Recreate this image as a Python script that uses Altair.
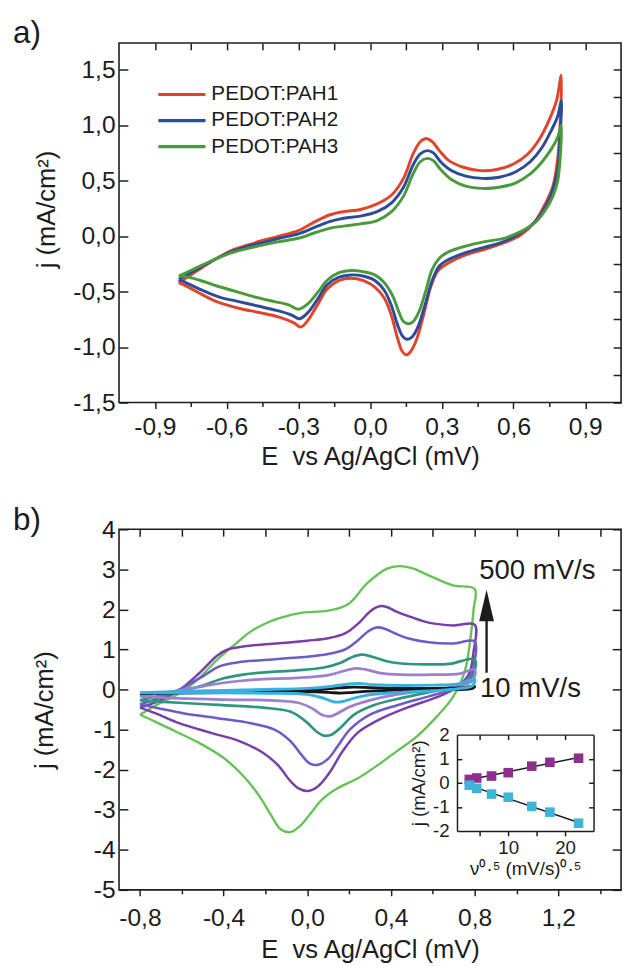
import altair as alt
import pandas as pd

FONT = "Liberation Sans"
INK = "#1c1c1c"
MINUS = "\u2212"

# ---------------- panel a : three films ----------------
a_names = ["PEDOT:PAH1", "PEDOT:PAH2", "PEDOT:PAH3"]
a_colors = ["#e0442b", "#2c4c9a", "#4a9a3c"]

pah1_E = [-0.80, -0.75, -0.70, -0.64, -0.58, -0.51, -0.45, -0.38, -0.30, -0.23, -0.17, -0.11, -0.04, 0.03, 0.09,
          0.14, 0.18, 0.21, 0.235, 0.26, 0.29, 0.33, 0.39, 0.46, 0.53, 0.60, 0.66, 0.71, 0.75, 0.78, 0.80,
          0.795, 0.785, 0.765, 0.735, 0.69, 0.63, 0.56, 0.48, 0.40, 0.33, 0.285, 0.255, 0.225, 0.195, 0.17,
          0.152, 0.135, 0.115, 0.09, 0.06, 0.02, -0.03, -0.08, -0.13, -0.18, -0.22, -0.26, -0.29, -0.32,
          -0.38, -0.46, -0.55, -0.63, -0.70, -0.76, -0.80]
pah1_j = [-0.42, -0.35, -0.28, -0.20, -0.13, -0.08, -0.04, 0.00, 0.05, 0.13, 0.19, 0.22, 0.24, 0.29, 0.37,
          0.52, 0.74, 0.85, 0.88, 0.85, 0.77, 0.68, 0.62, 0.59, 0.60, 0.65, 0.74, 0.88, 1.05, 1.22, 1.45,
          1.00, 0.70, 0.45, 0.30, 0.13, 0.01, -0.06, -0.12, -0.17, -0.24, -0.31, -0.45, -0.70, -0.93, -1.04,
          -1.07, -1.04, -0.92, -0.72, -0.56, -0.46, -0.40, -0.38, -0.40, -0.48, -0.62, -0.76, -0.82, -0.78,
          -0.73, -0.69, -0.65, -0.60, -0.53, -0.46, -0.42]

pah2_E = [-0.80, -0.75, -0.70, -0.64, -0.58, -0.51, -0.45, -0.38, -0.30, -0.23, -0.17, -0.11, -0.04, 0.03, 0.09,
          0.14, 0.18, 0.21, 0.24, 0.265, 0.295, 0.34, 0.40, 0.47, 0.54, 0.61, 0.67, 0.72, 0.76, 0.785, 0.80,
          0.795, 0.785, 0.765, 0.735, 0.69, 0.63, 0.56, 0.48, 0.40, 0.33, 0.29, 0.26, 0.23, 0.20, 0.175,
          0.152, 0.135, 0.115, 0.09, 0.06, 0.02, -0.03, -0.08, -0.13, -0.18, -0.22, -0.26, -0.295, -0.33,
          -0.39, -0.47, -0.55, -0.63, -0.70, -0.76, -0.80]
pah2_j = [-0.39, -0.33, -0.27, -0.20, -0.14, -0.09, -0.06, -0.02, 0.02, 0.08, 0.13, 0.16, 0.18, 0.22, 0.30,
          0.44, 0.64, 0.74, 0.77, 0.75, 0.67, 0.59, 0.54, 0.52, 0.53, 0.58, 0.67, 0.80, 0.96, 1.08, 1.22,
          0.90, 0.60, 0.42, 0.27, 0.13, 0.03, -0.05, -0.10, -0.15, -0.21, -0.27, -0.40, -0.62, -0.82, -0.91,
          -0.93, -0.90, -0.80, -0.63, -0.49, -0.40, -0.36, -0.35, -0.37, -0.44, -0.57, -0.69, -0.745, -0.71,
          -0.67, -0.63, -0.59, -0.55, -0.49, -0.43, -0.39]

pah3_E = [-0.80, -0.75, -0.70, -0.64, -0.58, -0.51, -0.45, -0.38, -0.30, -0.23, -0.17, -0.11, -0.04, 0.03, 0.09,
          0.14, 0.18, 0.21, 0.24, 0.265, 0.295, 0.34, 0.40, 0.47, 0.54, 0.61, 0.67, 0.72, 0.76, 0.785, 0.80,
          0.795, 0.785, 0.765, 0.735, 0.69, 0.63, 0.56, 0.48, 0.40, 0.33, 0.29, 0.26, 0.235, 0.205, 0.18,
          0.16, 0.14, 0.12, 0.095, 0.06, 0.02, -0.03, -0.08, -0.13, -0.18, -0.22, -0.26, -0.30, -0.34,
          -0.40, -0.48, -0.56, -0.64, -0.71, -0.76, -0.80]
pah3_j = [-0.36, -0.31, -0.26, -0.20, -0.15, -0.11, -0.08, -0.05, -0.02, 0.03, 0.07, 0.09, 0.11, 0.14, 0.22,
          0.36, 0.56, 0.67, 0.70, 0.68, 0.60, 0.51, 0.45, 0.43, 0.44, 0.48, 0.56, 0.67, 0.79, 0.89, 1.00,
          0.70, 0.50, 0.36, 0.24, 0.12, 0.04, -0.02, -0.05, -0.09, -0.14, -0.20, -0.30, -0.48, -0.68, -0.77,
          -0.79, -0.77, -0.68, -0.54, -0.42, -0.35, -0.32, -0.31, -0.33, -0.40, -0.51, -0.61, -0.66, -0.62,
          -0.59, -0.55, -0.50, -0.45, -0.40, -0.37, -0.36]

# ---------------- panel b : scan rates ----------------
b_names = ["500 mV/s", "300 mV/s", "200 mV/s", "100 mV/s", "50 mV/s", "10 mV/s", "20 mV/s"]
b_colors = ["#63c454", "#7a3ea9", "#6b5cc7", "#2e967c", "#9c7ed3", "#151515", "#36b2dd"]
b_widths = [2.4, 3.0, 2.9, 2.9, 2.9, 2.6, 3.8]

v500_E = [-0.80, -0.708, -0.613, -0.518, -0.43, -0.33, -0.273, -0.20, -0.148, -0.08, -0.023, 0.10, 0.195, 0.288,
          0.381, 0.44, 0.50, 0.58, 0.696, 0.80,
          0.795, 0.78, 0.753, 0.696, 0.62, 0.526, 0.43, 0.336, 0.24, 0.146, 0.07, 0.013, -0.034, -0.082,
          -0.129, -0.176, -0.233, -0.309, -0.404, -0.518, -0.632, -0.727, -0.80]
v500_j = [-0.63, -0.35, -0.10, 0.28, 0.75, 1.20, 1.44, 1.65, 1.76, 1.86, 1.92, 1.97, 2.13, 2.66,
          3.02, 3.08, 3.03, 2.85, 2.60, 2.51,
          2.00, 1.28, 0.46, -0.19, -0.67, -1.16, -1.53, -1.89, -2.22, -2.46, -2.75, -3.11, -3.40, -3.56,
          -3.48, -3.11, -2.63, -2.14, -1.69, -1.33, -1.04, -0.80, -0.63]

v300_E = [-0.80, -0.708, -0.613, -0.518, -0.43, -0.38, -0.30, -0.20, -0.10, 0.0, 0.10, 0.18, 0.25, 0.30, 0.345,
          0.38, 0.42, 0.49, 0.58, 0.70, 0.80,
          0.795, 0.772, 0.715, 0.62, 0.488, 0.355, 0.24, 0.165, 0.108, 0.05, 0.004, -0.044, -0.091, -0.139,
          -0.214, -0.328, -0.461, -0.613, -0.727, -0.80]
v300_j = [-0.45, -0.28, -0.02, 0.40, 0.85, 1.00, 1.08, 1.13, 1.17, 1.22, 1.28, 1.40, 1.68, 1.95, 2.08,
          2.06, 1.96, 1.82, 1.67, 1.60, 1.62,
          0.95, 0.38, 0.06, -0.19, -0.43, -0.72, -1.08, -1.57, -2.06, -2.42, -2.53, -2.46, -2.22, -1.89,
          -1.57, -1.28, -1.08, -0.84, -0.59, -0.45]

v200_E = [-0.80, -0.70, -0.60, -0.50, -0.42, -0.33, -0.22, -0.10, 0.0, 0.10, 0.18, 0.24, 0.29, 0.33, 0.37,
          0.42, 0.48, 0.58, 0.70, 0.80,
          0.797, 0.772, 0.696, 0.58, 0.43, 0.298, 0.203, 0.146, 0.099, 0.05, 0.013, -0.025, -0.082, -0.157,
          -0.271, -0.423, -0.594, -0.708, -0.80]
v200_j = [-0.37, -0.20, 0.03, 0.33, 0.58, 0.68, 0.73, 0.78, 0.82, 0.89, 1.00, 1.22, 1.45, 1.55, 1.52,
          1.40, 1.28, 1.18, 1.15, 1.20,
          0.63, 0.26, 0.016, -0.17, -0.39, -0.63, -1.00, -1.41, -1.73, -1.88, -1.85, -1.65, -1.28, -1.00,
          -0.84, -0.72, -0.59, -0.47, -0.37]

v100_E = [-0.80, -0.70, -0.60, -0.50, -0.40, -0.30, -0.20, -0.05, 0.08, 0.16, 0.21, 0.26, 0.31, 0.37, 0.45,
          0.55, 0.68, 0.80,
          0.79, 0.734, 0.62, 0.469, 0.317, 0.222, 0.165, 0.118, 0.08, 0.042, -0.006, -0.082, -0.214,
          -0.404, -0.613, -0.80]
v100_j = [-0.27, -0.15, -0.04, 0.10, 0.28, 0.38, 0.43, 0.48, 0.55, 0.67, 0.80, 0.87, 0.82, 0.72, 0.65,
          0.63, 0.64, 0.75,
          0.34, 0.14, -0.02, -0.19, -0.39, -0.63, -0.92, -1.12, -1.15, -1.04, -0.80, -0.55, -0.45,
          -0.39, -0.33, -0.27]

v50_E = [-0.80, -0.65, -0.50, -0.40, -0.25, -0.05, 0.10, 0.18, 0.23, 0.28, 0.35, 0.45, 0.60, 0.73, 0.80,
         0.79, 0.715, 0.58, 0.43, 0.298, 0.203, 0.146, 0.108, 0.07, 0.023, -0.044, -0.176, -0.404, -0.613, -0.80]
v50_j = [-0.17, -0.05, 0.08, 0.17, 0.25, 0.29, 0.36, 0.47, 0.53, 0.50, 0.41, 0.37, 0.37, 0.40, 0.50,
         0.22, 0.07, -0.02, -0.12, -0.27, -0.43, -0.59, -0.67, -0.63, -0.47, -0.33, -0.27, -0.25, -0.22, -0.17]

v10_E = [-0.80, -0.50, -0.30, -0.10, 0.05, 0.15, 0.22, 0.30, 0.45, 0.60, 0.75, 0.80,
         0.79, 0.60, 0.40, 0.30, 0.22, 0.16, 0.10, 0.0, -0.20, -0.50, -0.80]
v10_j = [-0.10, -0.06, -0.04, -0.02, 0.00, 0.04, 0.06, 0.05, 0.03, 0.03, 0.05, 0.08,
         0.03, 0.00, -0.02, -0.04, -0.07, -0.09, -0.07, -0.05, -0.06, -0.08, -0.10]

v20_E = [-0.80, -0.60, -0.40, -0.20, 0.0, 0.10, 0.20, 0.25, 0.32, 0.45, 0.60, 0.72, 0.80,
         0.79, 0.72, 0.60, 0.45, 0.30, 0.22, 0.17, 0.13, 0.08, 0.0, -0.20, -0.50, -0.80]
v20_j = [-0.08, -0.05, -0.02, 0.00, 0.03, 0.07, 0.14, 0.15, 0.12, 0.10, 0.11, 0.14, 0.25,
         0.10, 0.02, -0.03, -0.07, -0.13, -0.22, -0.30, -0.31, -0.22, -0.12, -0.09, -0.08, -0.08]

# inset: peak currents vs sqrt(scan rate)
inset_v = [3.16, 4.47, 7.07, 10.0, 14.14, 17.32, 22.36]
inset_anodic = [0.14, 0.20, 0.28, 0.42, 0.69, 0.85, 1.02]
inset_cathodic = [-0.10, -0.23, -0.47, -0.60, -0.98, -1.22, -1.68]
inset_kinds = ["anodic", "cathodic"]
inset_colors = ["#8e2e8e", "#3fb4d9"]

# annotations
rate_text = ["500 mV/s", "10 mV/s"]
rate_text_E = [0.822, 0.826]
rate_text_j = [2.95, 0.0]
arrow_E = [0.857]
arrow_j0 = [0.42]
arrow_j1 = [1.95]
arrow_head_j = [2.10]

# ---------------- frames ----------------
def rows(name, E, j):
    return pd.DataFrame({"series": name, "E": E, "j": j, "k": list(range(len(E)))})

df_a = pd.concat([rows(n, E, j) for n, E, j in zip(
    a_names, [pah1_E, pah2_E, pah3_E], [pah1_j, pah2_j, pah3_j])], ignore_index=True)
df_b = pd.concat([rows(n, E, j) for n, E, j in zip(
    b_names, [v500_E, v300_E, v200_E, v100_E, v50_E, v10_E, v20_E],
    [v500_j, v300_j, v200_j, v100_j, v50_j, v10_j, v20_j])], ignore_index=True)
df_in = pd.concat([
    pd.DataFrame({"kind": inset_kinds[0], "v": inset_v, "j": inset_anodic}),
    pd.DataFrame({"kind": inset_kinds[1], "v": inset_v, "j": inset_cathodic}),
], ignore_index=True)
df_txt = pd.DataFrame({"t": rate_text, "E": rate_text_E, "j": rate_text_j})
df_arrow = pd.DataFrame({"E": arrow_E, "j0": arrow_j0, "j1": arrow_j1, "jh": arrow_head_j})

FMT1 = "replace(replace(format(datum.value, '.1f'), '.', ','), '" + MINUS + "', '-')"
FMT0 = "replace(format(datum.value, 'd'), '" + MINUS + "', '-')"


def sc(dom, rng=None):
    if rng is None:
        return alt.Scale(domain=dom, nice=False, zero=False)
    return alt.Scale(domain=dom, nice=False, zero=False, range=rng)


def tick_axis(orient, offset, values, size, domain=False):
    return alt.Axis(orient=orient, offset=offset, values=values, tickSize=size, ticks=True,
                    labels=False, domain=domain, grid=False, title=None, tickWidth=1.5,
                    tickColor=INK, domainColor=INK, domainWidth=1.5)


def ghost(xdom, ydom, xaxis, yaxis, xr=None, yr=None):
    d = pd.DataFrame({"x": xdom, "y": ydom})
    return alt.Chart(d).mark_point(opacity=0).encode(
        x=alt.X("x:Q", scale=sc(xdom, xr), axis=xaxis),
        y=alt.Y("y:Q", scale=sc(ydom, yr), axis=yaxis),
    )


XTITLE = "E\u00a0 vs Ag/AgCl (mV)"
YTITLE = "j (mA/cm\u00b2)"
TXT = dict(labelFont=FONT, titleFont=FONT, labelColor=INK, titleColor=INK, titleFontWeight="normal")

# ---------------- panel a ----------------
WA, HA = 511, 366
XA = [-1.05, 1.05]
YA = [-1.5, 1.74]
xa_major = [-0.9, -0.6, -0.3, 0.0, 0.3, 0.6, 0.9]
xa_minor = [-0.75, -0.45, -0.15, 0.15, 0.45, 0.75]
ya_major = [-1.5, -1.0, -0.5, 0.0, 0.5, 1.0, 1.5]
ya_minor = [-1.25, -0.75, -0.25, 0.25, 0.75, 1.25]

curves_a = alt.Chart(df_a).mark_line(strokeWidth=3, interpolate="catmull-rom").encode(
    x=alt.X("E:Q", scale=sc(XA), axis=alt.Axis(
        orient="bottom", values=xa_major, labelExpr=FMT1, tickSize=6, tickWidth=1.5, tickColor=INK,
        labelFontSize=25, labelPadding=7, domain=False, grid=False, title=XTITLE,
        titleFontSize=26, titlePadding=4, **TXT)),
    y=alt.Y("j:Q", scale=sc(YA), axis=alt.Axis(
        orient="left", values=ya_major, labelExpr=FMT1, ticks=False, labelPadding=4,
        labelFontSize=25, domain=False, grid=False, title=YTITLE, titleFontSize=26,
        titlePadding=14, titleY=169, **TXT)),
    color=alt.Color("series:N", scale=alt.Scale(domain=a_names, range=a_colors), legend=alt.Legend(
        orient="none", legendX=53.5, legendY=42, title=None, symbolType="M-4,0L4,0",
        symbolSize=144, symbolStrokeWidth=3.2, labelFont=FONT, labelFontSize=21,
        labelColor=INK, labelOffset=19.5, rowPadding=4.5, padding=0)),
    order="k:Q",
)
ga1 = ghost(XA, YA, tick_axis("bottom", 0, xa_minor, 4), tick_axis("right", -WA, ya_major, 9))
ga2 = ghost(XA, YA, tick_axis("bottom", -HA, xa_major + xa_minor, 7),
            tick_axis("left", -WA, ya_major + ya_minor, 8))

panel_a = alt.layer(curves_a, ga1, ga2).resolve_scale(
    x="independent", y="independent").properties(
    width=WA, height=HA,
    title=alt.TitleParams("a)", anchor="start", frame="group", font=FONT, fontSize=32,
                          fontWeight="normal", color=INK, dx=-108, dy=30, offset=5,
                          baseline="middle"))

# ---------------- panel b ----------------
WB, HB = 511, 367
XB = [-0.9, 1.5]
YB = [-5, 4]
xb_major = [-0.8, -0.4, 0.0, 0.4, 0.8, 1.2]
xb_minor = [-0.6, -0.2, 0.2, 0.6, 1.0, 1.4]
yb_major = [-5, -4, -3, -2, -1, 0, 1, 2, 3, 4]

curves_b = alt.Chart(df_b).mark_line(interpolate="catmull-rom").encode(
    x=alt.X("E:Q", scale=sc(XB), axis=alt.Axis(
        orient="bottom", values=xb_major, labelExpr=FMT1, tickSize=6, tickWidth=1.5, tickColor=INK,
        labelFontSize=25, labelPadding=10, domain=False, grid=False, title=XTITLE,
        titleFontSize=26, titlePadding=7, **TXT)),
    y=alt.Y("j:Q", scale=sc(YB), axis=alt.Axis(
        orient="left", values=yb_major, labelExpr=FMT0, ticks=False, labelPadding=4,
        labelFontSize=25, domain=False, grid=False, title=YTITLE, titleFontSize=26,
        titlePadding=36, **TXT)),
    color=alt.Color("series:N", scale=alt.Scale(domain=b_names, range=b_colors), legend=None),
    strokeWidth=alt.StrokeWidth("series:N", scale=alt.Scale(domain=b_names, range=b_widths),
                                legend=None),
    order="k:Q",
)
gb1 = ghost(XB, YB, tick_axis("bottom", 0, xb_minor, 4), tick_axis("right", -WB, yb_major, 9))
gb2 = ghost(XB, YB, tick_axis("bottom", -HB, xb_major + xb_minor, 7),
            tick_axis("left", -WB, yb_major, 9))

# inset geometry (pixels inside panel b)
IX = [344, 483]
IY = [307, 209]
XI = [1, 25]
YI = [-2, 2]

inset_pts = alt.Chart(df_in).mark_square(size=95, opacity=1).encode(
    x=alt.X("v:Q", scale=sc(XI, IX), axis=alt.Axis(
        orient="bottom", offset=IY[0] - HB, values=[5, 10, 15, 20], tickSize=5, tickWidth=1.5,
        tickColor=INK, labelExpr="datum.value == 10 || datum.value == 20 ? datum.label : ''",
        labelFontSize=19, labelPadding=3, domain=True, domainColor=INK, domainWidth=1.5,
        grid=False, title="\u03bd\u2070\u00b7\u2075 (mV/s)\u2070\u00b7\u2075", titleFontSize=19,
        titlePadding=2, **TXT)),
    y=alt.Y("j:Q", scale=sc(YI, IY), axis=alt.Axis(
        orient="left", offset=-IX[0], values=[-2, -1, 0, 1, 2], ticks=False, labelExpr=FMT0,
        labelFontSize=19, labelPadding=8, domain=True, domainColor=INK, domainWidth=1.5,
        grid=False, title=YTITLE, titleFontSize=19, titlePadding=4, **TXT)),
    color=alt.Color("kind:N", scale=alt.Scale(domain=inset_kinds, range=inset_colors), legend=None),
)
inset_fit = alt.Chart(df_in).transform_regression("v", "j", groupby=["kind"]).mark_line(
    color=INK, strokeWidth=1.5).encode(
    x=alt.X("v:Q", scale=sc(XI, IX), axis=None),
    y=alt.Y("j:Q", scale=sc(YI, IY), axis=None),
    detail="kind:N",
)
gi1 = ghost(XI, YI, tick_axis("bottom", IY[1] - HB, [5, 10, 15, 20], 5, domain=True),
            tick_axis("left", -IX[1], [-1, 0, 1], 5, domain=True), xr=IX, yr=IY)
gi2 = ghost(XI, YI, None, tick_axis("right", IX[0] - WB, [-1, 0, 1], 5), xr=IX, yr=IY)

arrow_shaft = alt.Chart(df_arrow).mark_rule(strokeWidth=2.4, color=INK).encode(
    x=alt.X("E:Q", scale=sc(XB), axis=None),
    y=alt.Y("j0:Q", scale=sc(YB), axis=None),
    y2="j1:Q",
)
arrow_head = alt.Chart(df_arrow).mark_point(
    shape="M0,-1L0.47,1L-0.47,1Z", size=1024, filled=True, opacity=1, color=INK).encode(
    x=alt.X("E:Q", scale=sc(XB), axis=None),
    y=alt.Y("jh:Q", scale=sc(YB), axis=None),
)
rate_labels = alt.Chart(df_txt).mark_text(
    align="left", baseline="middle", font=FONT, fontSize=28, color=INK).encode(
    x=alt.X("E:Q", scale=sc(XB), axis=None),
    y=alt.Y("j:Q", scale=sc(YB), axis=None),
    text="t:N",
)

panel_b = alt.layer(curves_b, gb1, gb2, inset_fit, inset_pts, gi1, gi2,
                    arrow_shaft, arrow_head, rate_labels).resolve_scale(
    x="independent", y="independent", color="independent").properties(
    width=WB, height=HB,
    title=alt.TitleParams("b)", anchor="start", frame="group", font=FONT, fontSize=32,
                          fontWeight="normal", color=INK, dx=-108, dy=40, offset=5,
                          baseline="middle"))

chart = alt.vconcat(panel_a, panel_b, spacing=34).properties(
    padding={"left": 4, "top": 0, "right": 0, "bottom": 0},
    background="white",
).configure_view(stroke=INK, strokeWidth=1.6).configure_axis(
    labelFont=FONT, titleFont=FONT, labelColor=INK, titleColor=INK, titleFontWeight="normal"
)

chart.save("out.html", embed_options={"renderer": "svg", "actions": False})
